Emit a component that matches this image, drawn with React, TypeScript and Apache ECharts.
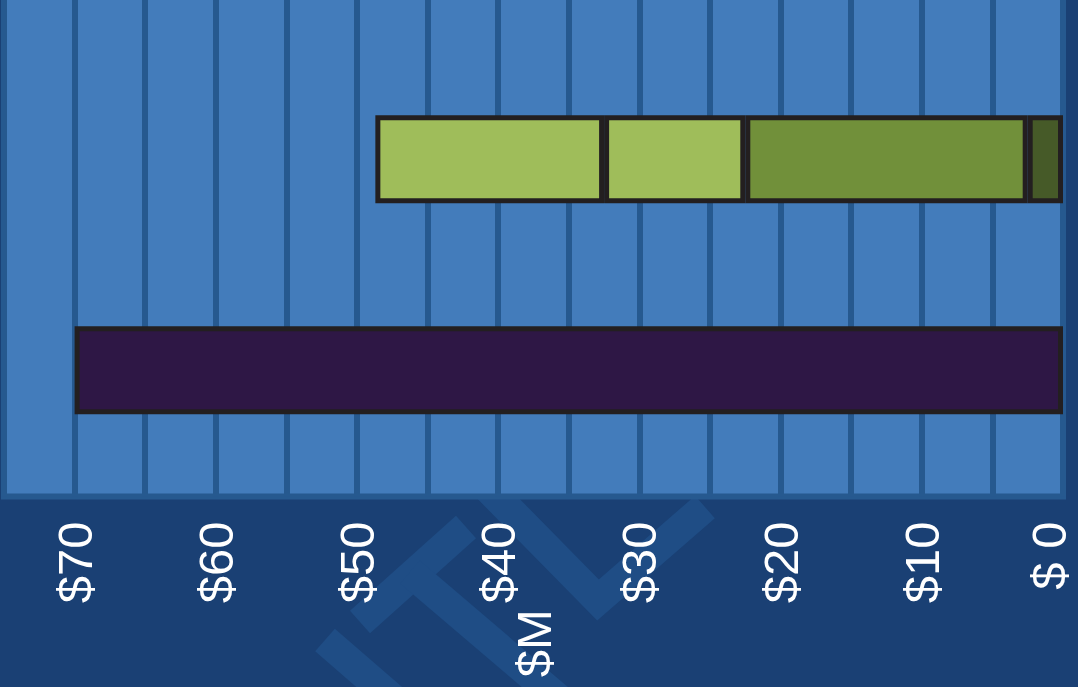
import React, { useEffect, useRef } from "react";
import * as echarts from "echarts";

// Categories (bottom to top)
const categories = ["Total cost", "Funding sources"];
// Stacked segments, from $0 outward
const segDark = [null, 2.5];
const segMid = [null, 20];
const segLight1 = [null, 10];
const segLight2 = [null, 16.2];
const totalBar = [70, null];
const tickValues = [0, 10, 20, 30, 40, 50, 60, 70];
const axisName = "$M";

const FONT = "'Liberation Sans', Arial, sans-serif";

export default function App() {
  const ref = useRef<HTMLDivElement>(null);
  useEffect(() => {
    if (!ref.current) return;
    const chart = echarts.init(ref.current, null, { renderer: "svg" });
    const border = { borderColor: "#231f20", borderWidth: 5 };
    const mk = (name: string, data: any[], color: string) => ({
      name,
      type: "bar",
      stack: "s",
      xAxisIndex: 1,
      yAxisIndex: 1,
      barWidth: 88,
      data,
      itemStyle: { color, ...border },
      silent: true,
    });
    const wm = "#1f4d85";
    const wmStyle = { stroke: wm, lineWidth: 30, fill: null, lineJoin: "miter" };
    chart.setOption({
      animation: false,
      backgroundColor: "#1a4074",
      graphic: {
        elements: [
          { type: "polyline", z: -10, shape: { points: [[360, 622], [466, 527]] }, style: wmStyle },
          { type: "polyline", z: -10, shape: { points: [[410, 572], [560, 700]] }, style: wmStyle },
          { type: "polyline", z: -10, shape: { points: [[325, 640], [400, 705]] }, style: wmStyle },
          { type: "polyline", z: -10, shape: { points: [[480, 480], [598, 600], [705, 507]] }, style: wmStyle },
        ],
      },
      grid: [
        { left: 4, right: 15, top: -20, bottom: 190.5, show: true, backgroundColor: "#437cbb", borderColor: "#26598f", borderWidth: 6, outerBoundsMode: "none", containLabel: false },
        { left: 4, right: 15, top: 53.7, bottom: 211.3, outerBoundsMode: "none", containLabel: false },
      ],
      xAxis: [
        {
          type: "value",
          gridIndex: 0,
          inverse: true,
          min: 0,
          max: 75,
          interval: 5,
          z: 1,
          axisLine: { show: false },
          axisTick: { show: false },
          splitLine: { show: true, lineStyle: { color: "#26598f", width: 6 } },
          axisLabel: {
            rotate: 90,
            margin: 25,
            color: "#ffffff",
            fontSize: 49,
            lineHeight: 28,
            fontFamily: FONT,
            verticalAlignMinLabel: "bottom",
            formatter: (v: number) => (tickValues.includes(v) ? "$" + String(v).padStart(2, " ") : ""),
          },
          name: axisName,
          nameLocation: "middle",
          nameRotate: 90,
          nameGap: 88,
          nameTextStyle: { color: "#ffffff", fontSize: 49, fontFamily: FONT },
        },
        { type: "value", gridIndex: 1, inverse: true, min: 0, max: 75, show: false },
      ],
      yAxis: [
        { type: "value", gridIndex: 0, show: false, splitLine: { show: false } },
        { type: "category", gridIndex: 1, data: categories, show: false },
      ],
      series: [
        mk("Segment A", segDark, "#465a28"),
        mk("Segment B", segMid, "#71903a"),
        mk("Segment C", segLight1, "#9fbd5a"),
        mk("Segment D", segLight2, "#9fbd5a"),
        mk("Total", totalBar, "#2e1745"),
      ],
    });
    return () => chart.dispose();
  }, []);
  return <div ref={ref} style={{ position: "fixed", left: 0, top: 0, width: 1078, height: 687 }} />;
}
